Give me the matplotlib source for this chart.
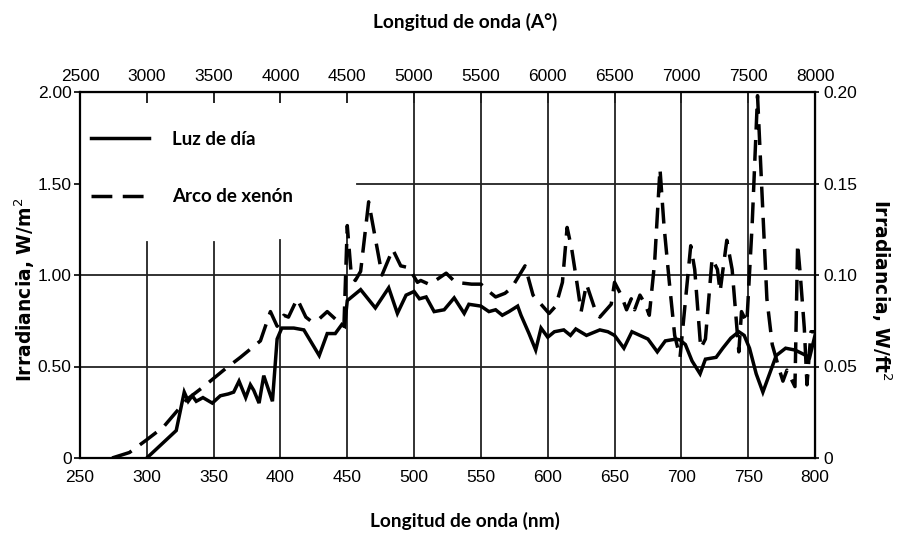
import matplotlib
matplotlib.use("Agg")
import matplotlib.pyplot as plt
import numpy as np

# ---------------- data ----------------
day_nm = [300, 322, 328, 331, 334, 337, 342, 349, 355, 361, 365, 369, 374, 377.5,
          380, 384, 387.5, 394, 397.5, 401, 410, 417.5, 429, 435, 441, 446, 448,
          450, 460, 471, 481, 487.5, 494, 500, 504, 509, 515, 522.5, 530, 537.5,
          541, 550, 556, 561, 566, 571, 577.5, 580, 586, 591, 595, 600, 605, 612,
          617, 621, 629, 639, 645, 650, 657, 663, 669, 675, 682, 688, 696, 699,
          703, 708, 714, 718, 726, 731, 737, 743, 747, 751, 756, 761, 766, 771,
          778, 785, 792, 796, 800]
day_val = [0.0, 0.15, 0.36, 0.31, 0.34, 0.31, 0.33, 0.30, 0.34, 0.35, 0.36, 0.42,
           0.33, 0.40, 0.37, 0.30, 0.45, 0.31, 0.65, 0.71, 0.71, 0.70, 0.56, 0.68,
           0.68, 0.73, 0.72, 0.86, 0.92, 0.82, 0.93, 0.79, 0.89, 0.91, 0.87, 0.88,
           0.80, 0.81, 0.875, 0.79, 0.84, 0.83, 0.80, 0.81, 0.78, 0.80, 0.83, 0.78,
           0.68, 0.59, 0.71, 0.66, 0.69, 0.70, 0.67, 0.705, 0.67, 0.70, 0.69, 0.67,
           0.60, 0.69, 0.67, 0.65, 0.58, 0.64, 0.65, 0.645, 0.62, 0.53, 0.46, 0.54,
           0.55, 0.60, 0.655, 0.69, 0.67, 0.60, 0.46, 0.36, 0.46, 0.56, 0.60, 0.59,
           0.565, 0.55, 0.67]

xen_nm = [274, 287, 300, 312.5, 330, 342.5, 357.5, 370, 375, 385, 392.5, 397.5,
          402.5, 406, 412.5, 419, 422.5, 427.5, 435, 444, 447.5, 450, 453, 456,
          460, 466, 476, 484, 490, 496, 502.5, 505, 511, 516, 524, 531, 537, 543,
          550, 556, 561, 568, 573, 578, 583, 589, 595, 601, 606, 611, 614.5, 618,
          622, 625, 629, 635, 639, 647.5, 650, 655, 659, 662.5, 665, 669, 673,
          676, 680, 684, 687, 691, 695, 699, 702, 707, 710, 714.5, 718, 723, 727,
          729, 734, 738, 743, 745, 749, 753, 757, 760, 764, 768, 773, 776, 779,
          785, 787, 789, 792, 794, 797, 800]
xen_val = [0.0, 0.03, 0.10, 0.17, 0.32, 0.39, 0.48, 0.55, 0.58, 0.64, 0.80, 0.72,
           0.78, 0.77, 0.87, 0.77, 0.75, 0.75, 0.80, 0.74, 0.72, 1.27, 1.00, 0.97,
           1.02, 1.40, 1.00, 1.14, 1.05, 1.04, 0.96, 0.97, 0.95, 0.97, 1.01, 0.96,
           0.955, 0.95, 0.95, 0.91, 0.88, 0.90, 0.93, 0.99, 1.05, 0.89, 0.84, 0.79,
           0.83, 0.96, 1.26, 1.14, 0.95, 0.80, 0.95, 0.82, 0.77, 0.84, 0.96, 0.89,
           0.81, 0.87, 0.81, 0.89, 0.84, 0.78, 1.07, 1.58, 1.27, 0.96, 0.67, 0.55,
           0.78, 1.16, 1.03, 0.60, 0.65, 1.09, 1.03, 0.91, 1.19, 1.03, 0.58, 0.80,
           0.74, 1.28, 1.98, 1.50, 0.87, 0.62, 0.49, 0.42, 0.48, 0.39, 1.17, 1.00,
           0.71, 0.40, 0.69, 0.69]

x_ticks = [250, 300, 350, 400, 450, 500, 550, 600, 650, 700, 750, 800]
top_ticks = [2500, 3000, 3500, 4000, 4500, 5000, 5500, 6000, 6500, 7000, 7500, 8000]
y_ticks = [0, 0.5, 1.0, 1.5, 2.0]
y_tick_labels = ["0", "0.50", "1.00", "1.50", "2.00"]
y2_ticks = [0, 0.05, 0.10, 0.15, 0.20]
y2_tick_labels = ["0", "0.05", "0.10", "0.15", "0.20"]

label_day = "Luz de día"
label_xen = "Arco de xenón"
title_top = "Longitud de onda (A°)"
title_bottom = "Longitud de onda (nm)"
ylabel_left = "Irradiancia, W/m$^2$"
ylabel_right = "Irradiancia, W/ft$^2$"

# grid top limits (grid is hidden behind the legend area)
vgrid_x = [300, 350, 400, 450, 500, 550, 600, 650, 700, 750]
vgrid_top = [1.18, 1.18, 1.19, 1.26, 2.0, 2.0, 2.0, 2.0, 2.0, 2.0]
hgrid_y = [0.5, 1.0, 1.5]
hgrid_start = [250, 250, 457]

# ---------------- figure ----------------
tick_font = ["Liberation Sans Narrow", "Liberation Sans", "DejaVu Sans"]
lab_font = ["Lato", "DejaVu Sans"]

fig = plt.figure(figsize=(8.97, 5.35), dpi=100)
ax = fig.add_axes([80 / 897, 1 - 458 / 535, (815 - 80) / 897, (458 - 92) / 535])
ax.set_xlim(250, 800)
ax.set_ylim(0, 2.0)

gcol = "#222222"
for xv, yt in zip(vgrid_x, vgrid_top):
    ax.plot([xv, xv], [0, yt], color=gcol, lw=1.3, zorder=1)
for yv, xs in zip(hgrid_y, hgrid_start):
    ax.plot([xs, 800], [yv, yv], color=gcol, lw=1.3, zorder=1)

ax.plot(day_nm, day_val, color="black", lw=2.5, solid_joinstyle="miter",
        label=label_day, zorder=3)
ax.plot(xen_nm, xen_val, color="black", lw=2.5, linestyle=(0, (6, 3)),
        label=label_xen, zorder=3)

for s in ax.spines.values():
    s.set_linewidth(1.6)
    s.set_color("black")

ax.set_xticks(x_ticks)
ax.set_xticklabels([str(t) for t in x_ticks])
ax.set_yticks(y_ticks)
ax.set_yticklabels(y_tick_labels)
ax.tick_params(axis="x", direction="in", length=0, pad=9, labelsize=12.5)
ax.tick_params(axis="y", direction="out", length=4, width=1.2, pad=2, labelsize=12.5)
for lbl in ax.get_xticklabels() + ax.get_yticklabels():
    lbl.set_family(tick_font)

top = ax.secondary_xaxis("top", functions=(lambda v: v * 10, lambda v: v / 10))
top.set_xticks(top_ticks)
top.set_xticklabels([str(t) for t in top_ticks])
top.tick_params(direction="in", length=8, width=1.2, pad=6, labelsize=12.5)
for lbl in top.get_xticklabels():
    lbl.set_family(tick_font)

right = ax.secondary_yaxis("right", functions=(lambda v: v * 0.1, lambda v: v * 10))
right.set_yticks(y2_ticks)
right.set_yticklabels(y2_tick_labels)
right.tick_params(direction="out", length=3, width=1.2, pad=3, labelsize=12.5)
for lbl in right.get_yticklabels():
    lbl.set_family(tick_font)

leg = ax.legend(loc="upper left", bbox_to_anchor=(-0.008, 0.94), frameon=False,
                handlelength=3.1, handletextpad=1.2, labelspacing=2.15,
                prop={"family": lab_font, "weight": "bold", "size": 13.5})

fig.text(465 / 897, 1 - 22 / 535, title_top, ha="center", va="center",
         family=lab_font, weight="bold", fontsize=13.8)
fig.text(465 / 897, 1 - 521 / 535, title_bottom, ha="center", va="center",
         family=lab_font, weight="bold", fontsize=13.8)
fig.text(25 / 897, 1 - 290 / 535, ylabel_left, ha="center", va="center",
         rotation=90, family="DejaVu Sans", weight="bold", fontsize=13.5)
fig.text(881 / 897, 1 - 290 / 535, ylabel_right, ha="center", va="center",
         rotation=-90, family="DejaVu Sans", weight="bold", fontsize=13.5)

fig.savefig("out.png", dpi=100, facecolor="white")
